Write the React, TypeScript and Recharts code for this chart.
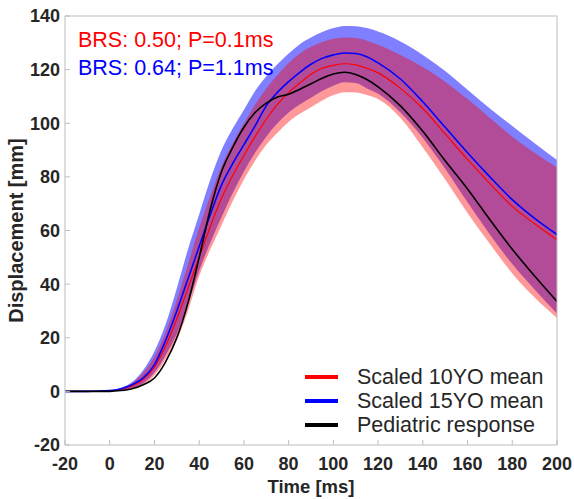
import React from "react";
import { ComposedChart, Area, Line, XAxis, YAxis, Label } from "recharts";

// time axis [ms]
const times = [-20, -10, 0, 5, 10, 15, 20, 25, 30, 35, 40, 45, 50, 55, 60, 65, 70, 75, 80, 85, 90, 95, 100, 105, 110, 115, 120, 130, 140, 150, 160, 170, 180, 190, 200];

// displacement [mm]
const mean10 = [0, 0, 0.2, 0.8, 2, 4.5, 9, 17, 27, 38.5, 50, 61.5, 72, 80.5, 88, 95, 101.5, 107, 111.5, 115, 118.3, 120.5, 121.6, 122.2, 121.8, 120.5, 118.8, 113, 105.5, 96, 86.5, 77.5, 69, 62.5, 56.5];
const mean15 = [0, 0, 0.3, 1, 2.5, 5, 10, 19, 30, 42, 54, 66, 77, 85, 92, 99, 106.5, 111.5, 115.5, 119, 122, 124.2, 125.5, 126.2, 126, 124.8, 122.5, 116.5, 108, 98.5, 89, 80, 71.5, 64.5, 58.5];
const pediatric = [0, 0, 0, 0.3, 1, 2.5, 5, 11, 20, 33, 50, 68, 82, 91, 98.5, 104, 107.5, 109.8, 110.8, 112.7, 114.7, 116.8, 118.4, 119, 118.2, 116.3, 113.6, 106.5, 97, 86, 75.5, 64, 53, 43, 33.5];

// corridors
const band10Lo = [0, 0, 0, 0.3, 1, 2.5, 6, 12, 19, 30, 43, 53, 62, 71, 79, 86, 92, 96.5, 100.5, 103.5, 106, 108.5, 110.5, 111.6, 111.5, 110.5, 109, 102, 91, 79, 66.5, 55, 44, 35, 27.4];
const band10Hi = [0, 0, 0.3, 1, 3, 7, 13, 22, 34, 47.5, 61, 73, 84, 92.5, 100, 107, 113, 118, 122.5, 126, 128.5, 130.3, 131.5, 132, 131.8, 130.8, 129.3, 125.5, 121, 115.5, 109, 102, 95, 89, 83.5];
const band15Lo = [0, 0, 0.1, 0.4, 1.2, 3, 7, 13.5, 21.5, 32.5, 45, 55.5, 65, 74, 82, 89, 95, 100, 104, 107, 109.5, 112, 114, 115.3, 115, 113, 111, 104, 94.5, 83, 70.5, 58.5, 47.5, 38, 29];
const band15Hi = [0, 0, 0.4, 1.3, 3.5, 8, 15, 25, 38.5, 53, 66, 79, 90, 98, 105, 112, 117.5, 122, 126, 129.5, 132, 134, 135.5, 136.3, 136.2, 135.5, 134.2, 130.5, 125.5, 119.5, 112.5, 105.5, 99, 92.5, 86.3];

const xTicks = [-20, 0, 20, 40, 60, 80, 100, 120, 140, 160, 180, 200];
const yTicks = [-20, 0, 20, 40, 60, 80, 100, 120, 140];

const legendItems = [
  { name: "Scaled 10YO mean", color: "#ff0000" },
  { name: "Scaled 15YO mean", color: "#0000ff" },
  { name: "Pediatric response", color: "#000000" },
];

const notes = [
  { text: "BRS: 0.50; P=0.1ms", color: "#ff0000" },
  { text: "BRS: 0.64; P=1.1ms", color: "#0000ff" },
];

const rows = times.map((t, i) => ({
  t,
  m10: mean10[i],
  m15: mean15[i],
  ped: pediatric[i],
  b10: [band10Lo[i], band10Hi[i]],
  b15: [band15Lo[i], band15Hi[i]],
}));

const FONT = '"Liberation Sans", Arial, sans-serif';
const AXIS = "#bdbdbd";
const TEXT = "#262626";

export default function App() {
  const tickStyle = { fill: TEXT, fontSize: 18, fontWeight: 700, fontFamily: FONT };
  return (
    <div style={{ position: "absolute", left: 0, top: 0, width: 574, height: 499, background: "#fff" }}>
      <ComposedChart width={574} height={499} data={rows} margin={{ top: 6, right: 7, bottom: 4, left: 5 }}>
        <XAxis
          dataKey="t"
          type="number"
          domain={[-20, 200]}
          ticks={xTicks}
          height={50}
          tickSize={-5}
          tickMargin={17}
          stroke={AXIS}
          tickLine={{ stroke: AXIS }}
          tick={tickStyle}
          allowDataOverflow
        >
          <Label
            content={(p: any) => (
              <text
                x={p.viewBox.x + p.viewBox.width / 2}
                y={p.viewBox.y + 48}
                textAnchor="middle"
                fill={TEXT}
                fontSize={18.5}
                fontWeight={700}
                fontFamily={FONT}
              >
                Time [ms]
              </text>
            )}
          />
        </XAxis>
        <XAxis
          xAxisId="top"
          orientation="top"
          type="number"
          domain={[-20, 200]}
          ticks={xTicks}
          height={10}
          tickSize={-5}
          stroke={AXIS}
          tickLine={{ stroke: AXIS }}
          tick={false}
          allowDataOverflow
        />
        <YAxis
          type="number"
          domain={[-20, 140]}
          ticks={yTicks}
          width={60}
          tickSize={-5}
          tickMargin={10}
          stroke={AXIS}
          tickLine={{ stroke: AXIS }}
          tick={tickStyle}
          allowDataOverflow
        >
          <Label
            content={(p: any) => {
              const cx = 16;
              const cy = p.viewBox.y + p.viewBox.height / 2;
              return (
                <text
                  x={cx}
                  y={cy}
                  transform={`rotate(-90 ${cx} ${cy})`}
                  textAnchor="middle"
                  dominantBaseline="central"
                  fill={TEXT}
                  fontSize={20}
                  fontWeight={700}
                  fontFamily={FONT}
                >
                  Displacement [mm]
                </text>
              );
            }}
          />
        </YAxis>
        <YAxis
          yAxisId="right"
          orientation="right"
          type="number"
          domain={[-20, 140]}
          ticks={yTicks}
          width={10}
          tickSize={-5}
          stroke={AXIS}
          tickLine={{ stroke: AXIS }}
          tick={false}
          allowDataOverflow
        />
        <Area
          type="monotone"
          dataKey="b15"
          stroke="none"
          fill="#0000ff"
          fillOpacity={0.5}
          isAnimationActive={false}
        />
        <Area
          type="monotone"
          dataKey="b10"
          stroke="none"
          fill="#ff0000"
          fillOpacity={0.4}
          isAnimationActive={false}
        />
        <Line type="monotone" dataKey="m10" stroke="#ff0000" strokeWidth={1.2} dot={false} isAnimationActive={false} />
        <Line type="monotone" dataKey="m15" stroke="#0000ff" strokeWidth={1.6} dot={false} isAnimationActive={false} />
        <Line type="monotone" dataKey="ped" stroke="#000000" strokeWidth={1.6} dot={false} isAnimationActive={false} />
      </ComposedChart>

      {notes.map((n, i) => (
        <div
          key={n.text}
          style={{
            position: "absolute",
            left: 78,
            top: 30 + i * 28,
            color: n.color,
            fontFamily: FONT,
            fontSize: 21.5,
            lineHeight: "20px",
            whiteSpace: "nowrap",
          }}
        >
          {n.text}
        </div>
      ))}

      <div style={{ position: "absolute", left: 305, top: 365 }}>
        {legendItems.map((item) => (
          <div key={item.name} style={{ display: "flex", alignItems: "center", height: 24 }}>
            <div style={{ width: 33, height: 3.5, background: item.color }} />
            <span
              style={{
                marginLeft: 19,
                color: TEXT,
                fontFamily: FONT,
                fontSize: 21.5,
                lineHeight: "20px",
                whiteSpace: "nowrap",
              }}
            >
              {item.name}
            </span>
          </div>
        ))}
      </div>
    </div>
  );
}
